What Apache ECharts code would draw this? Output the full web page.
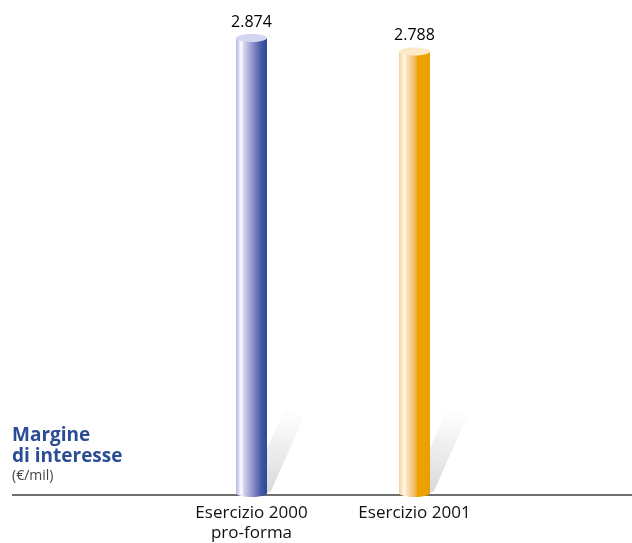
<!DOCTYPE html>
<html>
<head>
<meta charset="utf-8">
<script src="https://cdn.jsdelivr.net/npm/echarts@6/dist/echarts.min.js"></script>
<style>
  html, body { margin: 0; padding: 0; background: #fff; }
  #chart { width: 632px; height: 543px; }
</style>
</head>
<body>
<div id="chart"></div>
<script>
// dati (€/mil)
var categories = ['Esercizio 2000\npro-forma', 'Esercizio 2001'];
var values = [2874, 2788];

var BAR_W = 31;
var RY = 4;
var FONT = 'Open Sans';

// colori dei cilindri
var bodyStops = [
  [
    [0, '#b4b8df'], [0.1, '#dfe1f3'], [0.17, '#ffffff'], [0.26, '#d0d2ec'],
    [0.45, '#a4a8d6'], [0.65, '#7079bb'], [0.82, '#4259a3'], [1, '#2a4a97']
  ],
  [
    [0, '#f5d39a'], [0.1, '#fbe8c6'], [0.17, '#fffaf0'], [0.27, '#f9dfb4'],
    [0.42, '#f4c781'], [0.55, '#efb34a'], [0.6, '#eda200'], [1, '#eca000']
  ]
];
var topColors = ['#d4d6ef', '#fde9c9'];

function grad(stops) {
  return new echarts.graphic.LinearGradient(0, 0, 1, 0,
    stops.map(function (s) { return { offset: s[0], color: s[1] }; }));
}

function fmt(v) {
  return String(v).replace(/\B(?=(\d{3})+(?!\d))/g, '.');
}

var chart = echarts.init(document.getElementById('chart'));

var option = {
  animation: false,
  title: {
    text: 'Margine\ndi interesse',
    subtext: '(€/mil)',
    left: 12,
    top: 425,
    padding: 0,
    itemGap: 1,
    textStyle: {
      fontFamily: FONT, fontSize: 19, fontWeight: 'bold',
      color: '#2b4d96', lineHeight: 21
    },
    subtextStyle: {
      fontFamily: FONT, fontSize: 14, color: '#444', lineHeight: 16
    }
  },
  grid: { left: 170, right: 136, top: 18, bottom: 48 },
  xAxis: {
    type: 'category',
    data: categories,
    axisLine: { show: false },
    axisTick: { show: false },
    axisLabel: {
      margin: 10,
      fontFamily: FONT, fontSize: 17, color: '#111', lineHeight: 20
    }
  },
  yAxis: {
    type: 'value', min: 0, max: 3000,
    show: false
  },
  graphic: [{
    type: 'line',
    z: 0,
    shape: { x1: 12, y1: 495, x2: 632, y2: 495 },
    style: { stroke: '#6f6f6f', lineWidth: 2 }
  }],
  series: [{
    type: 'custom',
    data: values.map(function (v, i) { return [i, v]; }),
    encode: { x: 0, y: 1 },
    renderItem: function (params, api) {
      var i = params.dataIndex;
      var v = api.value(1);
      var top = api.coord([api.value(0), v]);
      var base = api.coord([api.value(0), 0]);
      var cx = top[0];
      var x0 = cx - BAR_W / 2;
      var rx = x0 + BAR_W;
      var by = base[1];
      var g = grad(bodyStops[i]);
      var shadow = new echarts.graphic.LinearGradient(0, 1, 0.3, 0, [
        { offset: 0, color: 'rgba(190,190,190,0.6)' },
        { offset: 0.6, color: 'rgba(215,215,215,0.4)' },
        { offset: 1, color: 'rgba(240,240,240,0.1)' }
      ]);
      return {
        type: 'group',
        children: [{
          type: 'polygon',
          shape: {
            points: [[rx, by], [rx, by - 45], [rx + 18, by - 84], [rx + 37, by - 76], [rx + 4, by - 2]]
          },
          style: { fill: shadow }
        }, {
          type: 'ellipse',
          shape: { cx: cx, cy: by, rx: BAR_W / 2, ry: RY },
          style: { fill: g }
        }, {
          type: 'rect',
          shape: { x: x0, y: top[1], width: BAR_W, height: by - top[1] },
          style: { fill: g }
        }, {
          type: 'ellipse',
          shape: { cx: cx, cy: top[1], rx: BAR_W / 2, ry: RY },
          style: { fill: topColors[i] }
        }, {
          type: 'text',
          style: {
            text: fmt(v),
            x: cx, y: top[1] - 16,
            align: 'center', verticalAlign: 'middle',
            fontFamily: FONT, fontSize: 16, fill: '#000'
          }
        }]
      };
    }
  }]
};

chart.setOption(option);
</script>
</body>
</html>
